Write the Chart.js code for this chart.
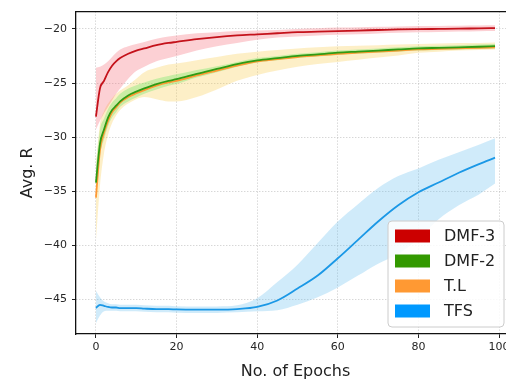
<!DOCTYPE html>
<html>
<head>
<meta charset="utf-8">
<script src="https://cdn.jsdelivr.net/npm/chart.js@4/dist/chart.umd.min.js"></script>
<style>
html,body{margin:0;padding:0;background:#fff;overflow:hidden;}
#wrap{width:506px;height:381px;overflow:hidden;position:relative;}
canvas{display:block;}
</style>
</head>
<body>
<div id="wrap"><canvas id="c" width="540" height="381" style="width:540px;height:381px"></canvas></div>
<script>
// ---- data ----
const epochs = [0,1,2,3,4,5,6,8,10,12,15,18,20,25,30,35,40,45,50,55,60,65,70,75,80,85,90,95,99];

const seriesNames = ["DMF-3","DMF-2","T.L","TFS"];

const dmf3Mean  = [-28.1,-25.5,-24.8,-24.0,-23.4,-23.0,-22.7,-22.3,-22.0,-21.8,-21.5,-21.3,-21.2,-20.95,-20.75,-20.6,-20.5,-20.4,-20.3,-20.25,-20.2,-20.15,-20.1,-20.05,-20.02,-20.0,-19.98,-19.95,-19.93];
const dmf3Upper = [-23.6,-23.5,-23.3,-23.0,-22.6,-22.2,-21.9,-21.6,-21.4,-21.2,-20.9,-20.7,-20.6,-20.4,-20.3,-20.2,-20.15,-20.1,-20.0,-19.95,-19.88,-19.85,-19.8,-19.77,-19.73,-19.72,-19.7,-19.68,-19.67];
const dmf3Lower = [-29.3,-28.5,-27.8,-27.2,-26.6,-26.0,-25.5,-24.6,-23.9,-23.5,-23.0,-22.7,-22.5,-22.0,-21.6,-21.3,-21.0,-20.8,-20.7,-20.6,-20.55,-20.5,-20.42,-20.36,-20.32,-20.28,-20.25,-20.22,-20.2];

const dmf2Mean  = [-34.2,-30.6,-29.3,-28.2,-27.5,-27.1,-26.7,-26.15,-25.8,-25.5,-25.1,-24.8,-24.65,-24.15,-23.7,-23.25,-22.9,-22.7,-22.5,-22.35,-22.2,-22.1,-22.0,-21.9,-21.8,-21.75,-21.7,-21.65,-21.6];
const dmf2Upper = [-32.8,-29.3,-28.3,-27.4,-26.8,-26.4,-26.0,-25.5,-25.2,-24.95,-24.6,-24.35,-24.2,-23.8,-23.45,-23.05,-22.7,-22.5,-22.3,-22.15,-22.0,-21.9,-21.8,-21.7,-21.6,-21.55,-21.5,-21.45,-21.4];
const dmf2Lower = [-35.3,-31.7,-30.2,-29.0,-28.2,-27.7,-27.2,-26.7,-26.35,-26.0,-25.6,-25.25,-25.1,-24.5,-24.0,-23.5,-23.1,-22.9,-22.7,-22.55,-22.4,-22.3,-22.2,-22.1,-22.0,-21.95,-21.9,-21.85,-21.8];

const tlMean  = [-35.6,-31.2,-29.6,-28.5,-27.7,-27.25,-26.8,-26.3,-25.95,-25.65,-25.25,-24.95,-24.8,-24.3,-23.85,-23.4,-23.0,-22.8,-22.6,-22.45,-22.3,-22.2,-22.1,-22.0,-21.9,-21.85,-21.8,-21.75,-21.7];
const tlUpper = [-32.5,-28.8,-27.6,-26.9,-26.4,-26.0,-25.7,-25.2,-24.6,-24.0,-23.6,-23.3,-23.2,-22.9,-22.6,-22.3,-22.1,-21.95,-21.8,-21.7,-21.6,-21.55,-21.5,-21.45,-21.4,-21.35,-21.3,-21.3,-21.25];
const tlLower = [-39.6,-34.5,-31.5,-29.8,-28.7,-28.0,-27.5,-26.9,-26.5,-26.3,-26.5,-26.7,-26.7,-26.3,-25.6,-24.8,-24.25,-23.85,-23.5,-23.25,-23.05,-22.85,-22.65,-22.45,-22.2,-22.1,-22.0,-21.95,-21.9];

const tfsMean  = [-45.8,-45.5,-45.6,-45.7,-45.75,-45.75,-45.8,-45.8,-45.8,-45.85,-45.9,-45.9,-45.93,-45.95,-45.95,-45.9,-45.7,-45.1,-44.0,-42.8,-41.2,-39.5,-37.8,-36.3,-35.1,-34.2,-33.3,-32.5,-31.9];
const tfsUpper = [-44.2,-44.8,-45.2,-45.35,-45.45,-45.45,-45.5,-45.5,-45.5,-45.55,-45.6,-45.6,-45.63,-45.65,-45.65,-45.55,-44.9,-43.4,-41.8,-39.8,-37.8,-36.2,-34.7,-33.6,-32.9,-32.1,-31.4,-30.7,-30.1];
const tfsLower = [-47.2,-46.5,-46.1,-46.05,-46.05,-46.05,-46.1,-46.1,-46.1,-46.15,-46.2,-46.2,-46.23,-46.25,-46.25,-46.2,-46.1,-46.0,-45.5,-44.8,-43.9,-42.8,-41.7,-40.8,-39.4,-37.6,-36.3,-35.3,-34.3];

const xTicks = [0,20,40,60,80,100];
const yTicks = [-45,-40,-35,-30,-25,-20];

// ---- styling ----
const lineColors  = ["#c4121b","#2f9a14","#ff9933","#1b98e6"];
const bandColors  = ["rgba(245,110,120,0.32)","rgba(90,230,90,0.32)","rgba(248,205,80,0.32)","rgba(100,190,240,0.30)"];
const swatchColors = ["#cc0000","#339900","#ff9933","#0099ff"];

const pts = arr => epochs.map((e,i)=>({x:e,y:arr[i]}));
const means  = [dmf3Mean,dmf2Mean,tlMean,tfsMean];
const uppers = [dmf3Upper,dmf2Upper,tlUpper,tfsUpper];
const lowers = [dmf3Lower,dmf2Lower,tlLower,tfsLower];

const datasets = [];
means.forEach((m,i)=>{
  datasets.push({label:seriesNames[i], data:pts(m), borderColor:lineColors[i], borderWidth:1.8,
    pointRadius:0, fill:false, cubicInterpolationMode:'monotone', order:i+1});
});
means.forEach((m,i)=>{
  const upIdx = datasets.length;
  datasets.push({label:seriesNames[i]+' upper', data:pts(uppers[i]), borderWidth:0, borderColor:'rgba(0,0,0,0)',
    pointRadius:0, backgroundColor:bandColors[i], fill:{target:upIdx+1}, cubicInterpolationMode:'monotone', order:10+i});
  datasets.push({label:seriesNames[i]+' lower', data:pts(lowers[i]), borderWidth:0, borderColor:'rgba(0,0,0,0)',
    pointRadius:0, fill:false, cubicInterpolationMode:'monotone', order:10+i});
});

const minusFmt = v => String(v).replace('-', '\u2212');

const framePlugin = {
  id:'frame',
  afterDraw(chart){
    const {ctx, chartArea:a} = chart;
    ctx.save();
    ctx.setLineDash([]);
    ctx.strokeStyle = '#111';
    ctx.lineWidth = 1.3;
    ctx.beginPath();
    ctx.moveTo(a.left, a.top); ctx.lineTo(a.right, a.top);
    ctx.stroke();
    // legend
    const bx = 388, by = 221, bw = 116, bh = 106, r = 4;
    ctx.fillStyle = 'rgba(255,255,255,0.85)';
    ctx.strokeStyle = '#cccccc';
    ctx.lineWidth = 1;
    ctx.beginPath();
    ctx.moveTo(bx+r,by); ctx.lineTo(bx+bw-r,by); ctx.arcTo(bx+bw,by,bx+bw,by+r,r);
    ctx.lineTo(bx+bw,by+bh-r); ctx.arcTo(bx+bw,by+bh,bx+bw-r,by+bh,r);
    ctx.lineTo(bx+r,by+bh); ctx.arcTo(bx,by+bh,bx,by+bh-r,r);
    ctx.lineTo(bx,by+r); ctx.arcTo(bx,by,bx+r,by,r);
    ctx.closePath(); ctx.fill(); ctx.stroke();
    ctx.font = '16px "DejaVu Sans"';
    ctx.textBaseline = 'middle';
    ctx.textAlign = 'left';
    seriesNames.forEach((n,i)=>{
      const cy = 236 + i*25;
      ctx.fillStyle = swatchColors[i];
      ctx.fillRect(395, cy-6.5, 35, 13);
      ctx.fillStyle = '#222';
      ctx.fillText(n, 444, cy+1);
    });
    ctx.restore();
  }
};

const gridOpts = {color:'rgba(175,175,175,0.9)', lineWidth:0.8, tickLength:4, tickColor:'#222', tickWidth:1, tickBorderDash:[]};

new Chart(document.getElementById('c'), {
  type:'line',
  data:{datasets},
  plugins:[framePlugin],
  options:{
    responsive:false, animation:false, devicePixelRatio:1,
    layout:{padding:{left:0,top:9,right:25,bottom:0}},
    plugins:{legend:{display:false}, tooltip:{enabled:false}},
    scales:{
      x:{type:'linear', min:-4.95, max:103.95,
        afterBuildTicks:s=>{s.ticks = xTicks.map(v=>({value:v}));},
        afterFit:s=>{s.height = 47;},
        ticks:{callback:minusFmt, color:'#262626', font:{family:'DejaVu Sans', size:11}, padding:3, maxRotation:0, autoSkip:false},
        grid:gridOpts,
        border:{color:'#111', width:1.3, dash:[1,2]},
        title:{display:true, text:'No. of Epochs', color:'#222', font:{family:'DejaVu Sans', size:16}, padding:{top:0,bottom:0}}
      },
      y:{type:'linear', min:-48.2, max:-18.4,
        afterBuildTicks:s=>{s.ticks = yTicks.map(v=>({value:v}));},
        afterFit:s=>{s.width = 76;},
        ticks:{callback:minusFmt, color:'#262626', font:{family:'DejaVu Sans', size:11}, padding:5, autoSkip:false},
        grid:gridOpts,
        border:{color:'#111', width:1.3, dash:[1,2]},
        title:{display:true, text:'Avg. R', color:'#222', font:{family:'DejaVu Sans', size:16}, padding:{top:18.5,bottom:0}}
      }
    }
  }
});
</script>
</body>
</html>
